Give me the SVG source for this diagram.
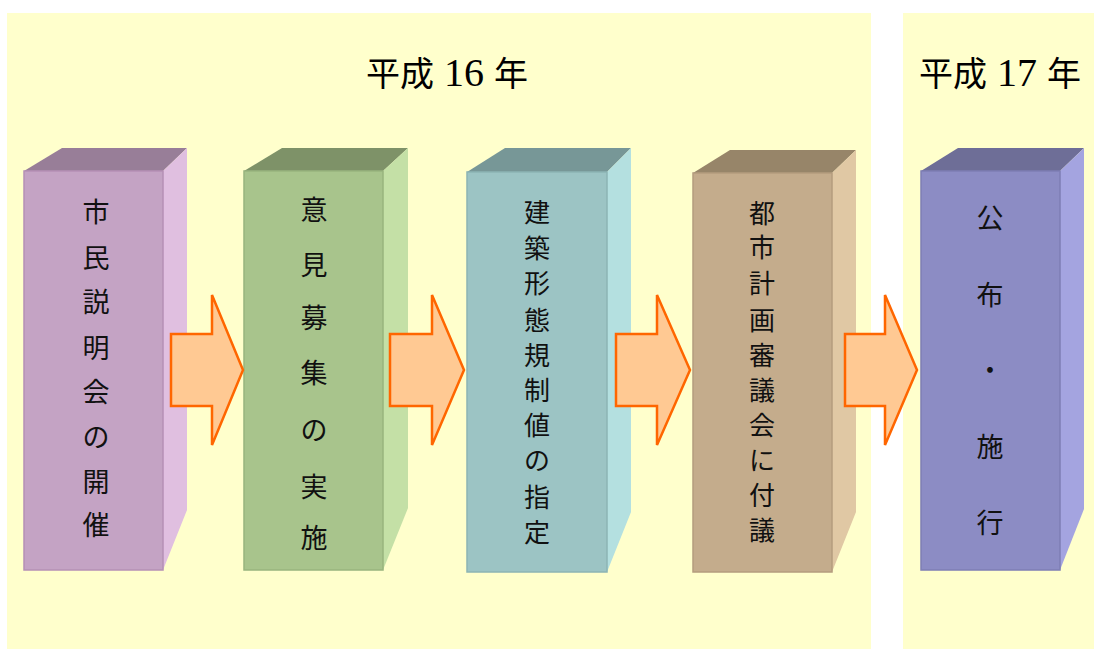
<svg xmlns="http://www.w3.org/2000/svg" width="1094" height="649" viewBox="0 0 1094 649">
<style>
.panel{fill:#FFFFCC}
.lbl{font-family:"Noto Sans CJK JP","Noto Sans CJK SC",sans-serif;font-size:27px;fill:#111;text-anchor:middle}
.lbl2{font-family:"Noto Sans CJK JP","Noto Sans CJK SC",sans-serif;font-size:26px;fill:#111;text-anchor:middle}
.title{font-family:"Noto Sans CJK JP",sans-serif;font-size:34px;fill:#000;text-anchor:middle}
.num{font-family:"Liberation Serif",serif;font-size:40px}
.arrow{fill:#FFC993;stroke:#FF6600;stroke-width:2.5;stroke-linejoin:miter}
</style>
<rect width="1094" height="649" fill="#FFFFFF"/>
<rect class="panel" x="7" y="13" width="864" height="636"/>
<rect class="panel" x="903" y="13" width="191" height="636"/>
<text class="title" x="447" y="86">平成<tspan class="num"> 16 </tspan>年</text>
<text class="title" x="1000" y="86">平成<tspan class="num"> 17 </tspan>年</text>

<g id="node1">
<polygon points="24,171 62,148 187,148 163,171" fill="#987E98"/>
<polygon points="163,171 187,148 187,510 163,570" fill="#E0BFE0"/>
<rect x="24" y="171" width="139" height="399" fill="#C4A3C4" stroke="#B590B5" stroke-width="1.5"/>
<text class="lbl"><tspan x="96" y="222">市</tspan><tspan x="96" y="268">民</tspan><tspan x="96" y="312">説</tspan><tspan x="96" y="358">明</tspan><tspan x="96" y="402">会</tspan><tspan x="96" y="447">の</tspan><tspan x="96" y="492">開</tspan><tspan x="96" y="535">催</tspan></text>
</g>

<g id="node2">
<polygon points="244,171 282,148 408,148 383,171" fill="#7E9268"/>
<polygon points="383,171 408,148 408,508 383,570" fill="#C4E0A6"/>
<rect x="244" y="171" width="139" height="399" fill="#A8C48C" stroke="#98B47E" stroke-width="1.5"/>
<text class="lbl"><tspan x="314" y="220">意</tspan><tspan x="314" y="275">見</tspan><tspan x="314" y="328">募</tspan><tspan x="314" y="383">集</tspan><tspan x="314" y="440">の</tspan><tspan x="314" y="497">実</tspan><tspan x="314" y="548">施</tspan></text>
</g>

<g id="node3">
<polygon points="467,172 505,148 631,148 607,172" fill="#779797"/>
<polygon points="607,172 631,148 631,512 607,572" fill="#B4E0E0"/>
<rect x="467" y="172" width="140" height="400" fill="#9CC4C4" stroke="#8CB4B4" stroke-width="1.5"/>
<text class="lbl2"><tspan x="537" y="222">建</tspan><tspan x="537" y="258">築</tspan><tspan x="537" y="293">形</tspan><tspan x="537" y="330">態</tspan><tspan x="537" y="365">規</tspan><tspan x="537" y="400">制</tspan><tspan x="537" y="435">値</tspan><tspan x="537" y="470">の</tspan><tspan x="537" y="507">指</tspan><tspan x="537" y="542">定</tspan></text>
</g>

<g id="node4">
<polygon points="693,173 730,150 856,150 832,173" fill="#978569"/>
<polygon points="832,173 856,150 856,512 832,572" fill="#E0C8A4"/>
<rect x="693" y="173" width="139" height="399" fill="#C4AC8C" stroke="#B49C7E" stroke-width="1.5"/>
<text class="lbl2"><tspan x="762" y="223">都</tspan><tspan x="762" y="257">市</tspan><tspan x="762" y="293">計</tspan><tspan x="762" y="330">画</tspan><tspan x="762" y="365">審</tspan><tspan x="762" y="400">議</tspan><tspan x="762" y="435">会</tspan><tspan x="762" y="470">に</tspan><tspan x="762" y="505">付</tspan><tspan x="762" y="540">議</tspan></text>
</g>

<g id="node5">
<polygon points="921,171 958,148 1084,148 1060,171" fill="#6E6E97"/>
<polygon points="1060,171 1084,148 1084,509 1060,570" fill="#A4A4E0"/>
<rect x="921" y="171" width="139" height="399" fill="#8C8CC4" stroke="#7E7EB4" stroke-width="1.5"/>
<text class="lbl"><tspan x="990" y="228">公</tspan><tspan x="990" y="305">布</tspan><tspan x="990" y="380">・</tspan><tspan x="990" y="457">施</tspan><tspan x="990" y="533">行</tspan></text>
</g>

<g id="connectors">
<polygon class="arrow" points="171,334 212,334 212,295 243,370 212,445 212,406 171,406"/>
<polygon class="arrow" points="390,334 432,334 432,295 464,370 432,445 432,406 390,406"/>
<polygon class="arrow" points="616,334 657,334 657,295 690,370 657,445 657,406 616,406"/>
<polygon class="arrow" points="845,334 885,334 885,295 917,370 885,445 885,406 845,406"/>
</g>
</svg>
